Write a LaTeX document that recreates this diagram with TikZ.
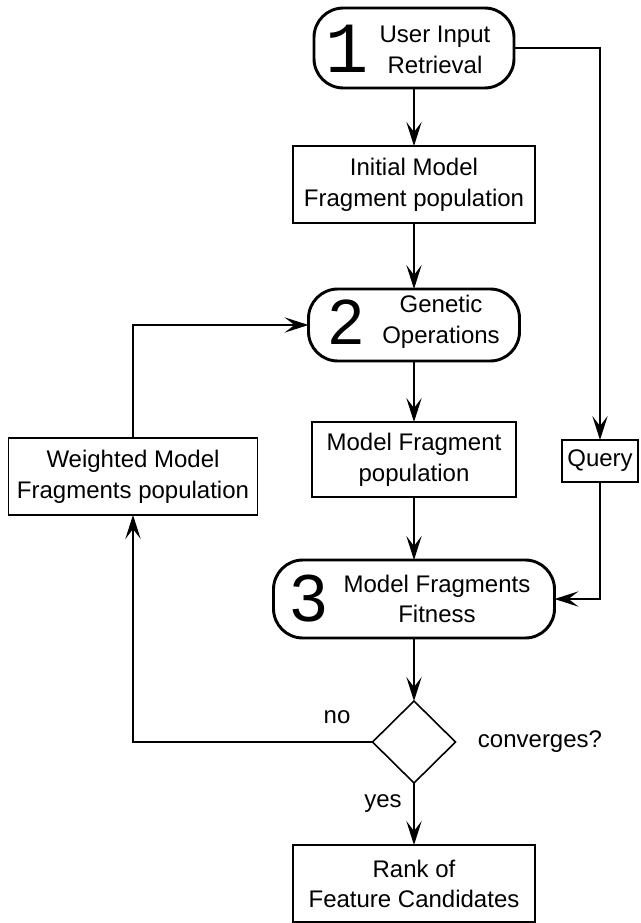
\documentclass[tikz,border=0pt]{standalone}
\usepackage{fontspec}
\setmainfont{Liberation Sans}
\newfontfamily\monofam{Liberation Mono}
\usetikzlibrary{arrows.meta,shapes.geometric}
\newlength\px
\setlength\px{0.75pt}
\begin{document}
\begin{tikzpicture}[x=0.75pt,y=-0.75pt,
  every node/.style={inner sep=0pt, outer sep=0pt},
  txt/.style={font=\fontsize{18}{23}\selectfont, align=center},
  stage/.style={draw, line width=2.2pt, rounded corners=22pt},
  stepbox/.style={draw, line width=1pt},
  bignum/.style={font=\fontsize{48}{48}\selectfont},
  flow/.style={line width=1pt, -{Stealth[length=18pt,width=11.5pt,inset=7.5pt]}},
  link/.style={line width=1pt}]
\useasboundingbox (0,0) rectangle (640,923);

% stage 1
\node[stage, minimum width=200\px, minimum height=80\px] (s1) at (414,48) {};
\node[font=\monofam\fontsize{54}{54}\selectfont] (n1) at (347,49) {1};
\node[txt] (t1) at (435,50) {User Input\\Retrieval};

% initial population
\node[stepbox, minimum width=242\px, minimum height=77\px] (init) at (414,184.5) {};
\node[txt] (tinit) at (414,185) {Initial Model\\Fragment population};

% stage 2
\node[stage, minimum width=211\px, minimum height=72\px] (s2) at (414,325) {};
\node[bignum] (n2) at (346,322) {2};
\node[txt] (t2) at (441,322) {Genetic\\Operations};

% model fragment population
\node[stepbox, minimum width=204\px, minimum height=75\px] (mf) at (414,459.5) {};
\node[txt] (tmf) at (414,460) {Model Fragment\\population};

% query
\node[stepbox, minimum width=76\px, minimum height=42\px] (q) at (600,461) {};
\node[txt] (tq) at (600,461) {Query};

% weighted population
\node[stepbox, minimum width=249\px, minimum height=77\px] (w) at (133,476.5) {};
\node[txt] (tw) at (133,477) {Weighted Model\\Fragments population};

% stage 3
\node[stage, minimum width=281\px, minimum height=78\px] (s3) at (414,599) {};
\node[font=\fontsize{50}{50}\selectfont] (n3) at (309,599) {3};
\node[txt] (t3) at (437,599) {Model Fragments\\Fitness};

% decision
\node[diamond, draw, line width=1.2pt, minimum width=83\px, minimum height=82\px] (dec) at (414,742) {};
\node[txt, anchor=base] (lno) at (337,723) {no};
\node[txt, anchor=base] (lyes) at (383,807) {yes};
\node[txt, anchor=base] (lconv) at (540,747) {converges?};

% result
\node[stepbox, minimum width=242\px, minimum height=77\px] (rank) at (414,883.5) {};
\node[txt] (trank) at (414,884) {Rank of\\Feature Candidates};

% connectors
\draw[flow] (s1) -- (init);
\draw[flow] (s1.east) -| (q.north);
\draw[flow] (init) -- (s2);
\draw[flow] (s2) -- (mf);
\draw[flow] (mf) -- (s3);
\draw[flow] (q.south) |- (s3.east);
\draw[flow] (s3) -- (dec);
\draw[flow] (dec) -- (rank);
\draw[flow] (dec.west) -| (w.south);
\draw[flow] (w.north) |- (s2.west);
\end{tikzpicture}
\end{document}
